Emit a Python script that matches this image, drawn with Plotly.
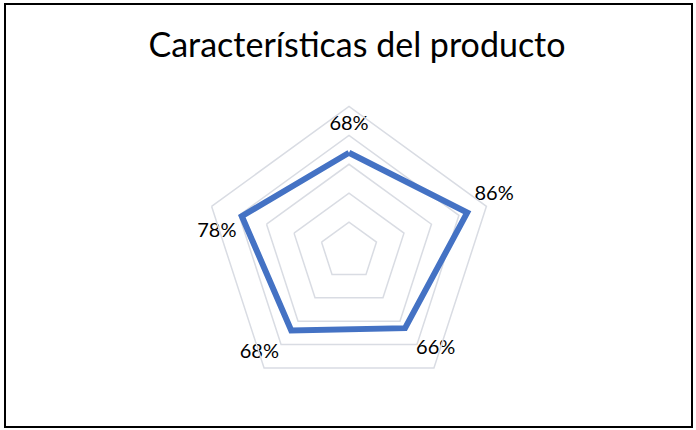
import plotly.graph_objects as go

# Data (clockwise from top)
categories = ["Característica 1", "Característica 2", "Característica 3",
              "Característica 4", "Característica 5"]
values = [68, 86, 66, 68, 78]  # percent

# label styling per point (style only, not data)
label_positions = ["top center", "top right", "bottom right", "bottom left", "bottom left"]
label_pad_sizes = [27, 10, 16, 18, 7]  # invisible marker sizes that set the label offset

r_closed = values + values[:1]
theta_closed = categories + categories[:1]
text_closed = [f"{v}%" for v in values] + [""]
pos_closed = label_positions + label_positions[:1]
size_closed = label_pad_sizes + label_pad_sizes[:1]

fig = go.Figure()
fig.add_trace(go.Scatterpolar(
    r=r_closed,
    theta=theta_closed,
    mode="lines+markers+text",
    line=dict(color="#4472C4", width=6, shape="linear"),
    marker=dict(size=size_closed, color="rgba(0,0,0,0)",
                line=dict(width=0, color="rgba(0,0,0,0)")),
    text=text_closed,
    textposition=pos_closed,
    textfont=dict(family="Lato, Liberation Sans, sans-serif", size=20, color="#000000"),
    hoverinfo="skip",
    showlegend=False,
    cliponaxis=False,
))

W, H = 696, 430
cx, cy, R = 349, 251, 144.5
fig.update_layout(
    width=W, height=H,
    margin=dict(l=0, r=0, t=0, b=0),
    paper_bgcolor="white",
    plot_bgcolor="white",
    hovermode=False,
    title=dict(
        text="Características del producto",
        font=dict(family="Lato, Liberation Sans, sans-serif", size=34, color="#000000"),
        x=357 / W, xanchor="center", xref="paper",
        y=1 - 45 / H, yanchor="middle", yref="container",
    ),
    polar=dict(
        domain=dict(x=[(cx - R) / W, (cx + R) / W],
                    y=[(H - cy - R) / H, (H - cy + R) / H]),
        bgcolor="white",
        gridshape="linear",
        radialaxis=dict(range=[0, 100], dtick=20, tick0=0,
                        showline=False, showticklabels=False, ticks="",
                        gridcolor="#D9DCE3", gridwidth=1.5),
        angularaxis=dict(rotation=90, direction="clockwise",
                         showgrid=False, showticklabels=False, ticks="",
                         showline=True, linecolor="#D9DCE3", linewidth=1.5),
    ),
    shapes=[dict(type="rect", xref="paper", yref="paper",
                 x0=5 / W, x1=692 / W, y0=1 - 427 / H, y1=1 - 4 / H,
                 line=dict(color="#000000", width=2), fillcolor="rgba(0,0,0,0)")],
)

fig.write_html("out.html",
               config={"displayModeBar": False, "staticPlot": True},
               post_script="document.body.style.margin='0';document.body.style.overflow='hidden';")
